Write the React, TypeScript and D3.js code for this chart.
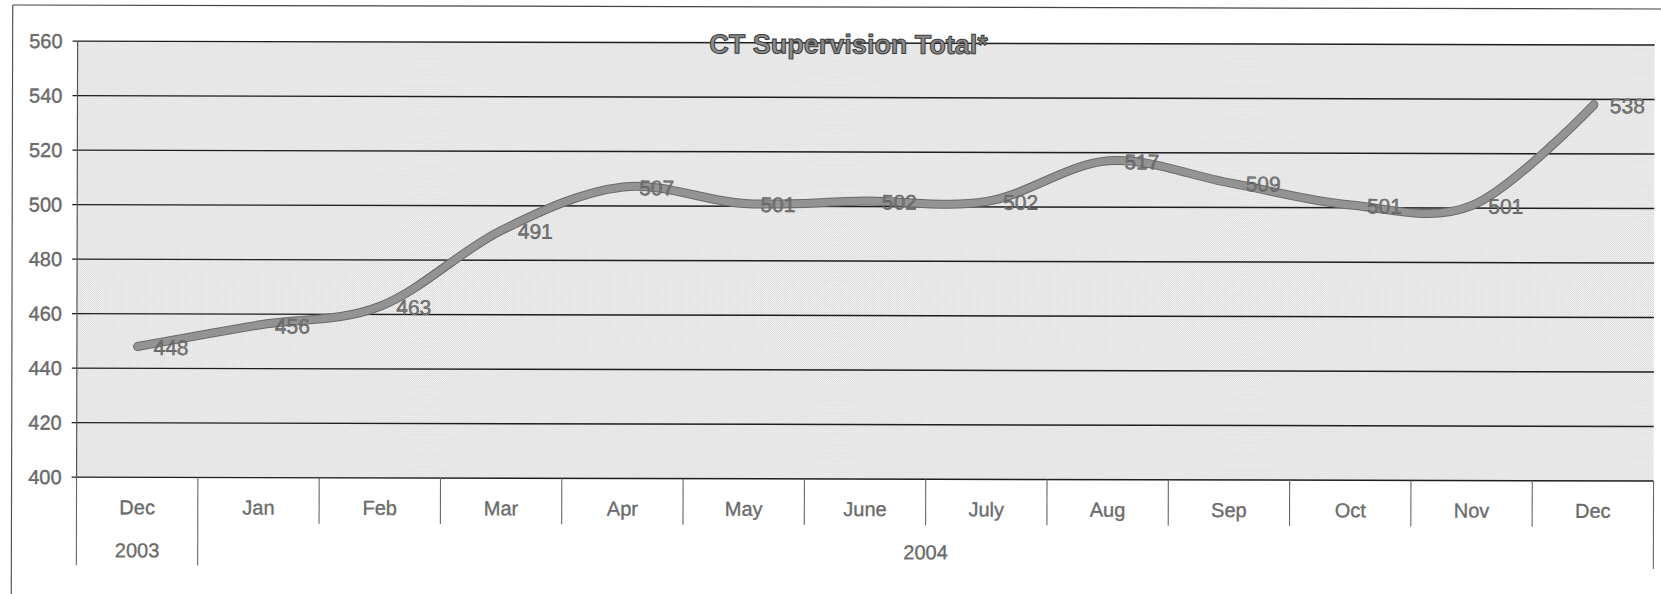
import React from "react";
import * as d3 from "d3";

const months = ["Dec", "Jan", "Feb", "Mar", "Apr", "May", "June", "July", "Aug", "Sep", "Oct", "Nov", "Dec"];
const values = [448, 456, 463, 491, 507, 501, 502, 502, 517, 509, 501, 501, 538];
const yearLabels = ["2003", "2004"];
const yearSpans = [1, 12];
const yTicks = [400, 420, 440, 460, 480, 500, 520, 540, 560];
const title = "CT Supervision Total*";

const W = 1661;
const H = 594;
const FONT = "'Liberation Sans', Arial, sans-serif";

export default function App() {
  const plotLeft = 77;
  const plotRight = 1654;
  const plotTop = 43;
  const plotBottom = 479;

  const x = d3.scaleBand<number>().domain(d3.range(months.length)).range([plotLeft, plotRight]).padding(0);
  const y = d3.scaleLinear().domain([400, 560]).range([plotBottom, plotTop]);
  const bw = x.bandwidth();
  const cx = (i: number) => (x(i) as number) + bw / 2;

  const line = d3
    .line<number>()
    .x((_, i) => cx(i))
    .y((d) => y(d))
    .curve(d3.curveCardinal.tension(0));
  const path = line(values) || "";

  const boundaries: { x: number; long: boolean }[] = [];
  let cum = 0;
  const yearEdges = new Set<number>([0]);
  yearSpans.forEach((s) => {
    cum += s;
    yearEdges.add(cum);
  });
  for (let i = 0; i <= months.length; i++) {
    const bx = i < months.length ? (x(i) as number) : plotRight;
    boundaries.push({ x: bx, long: yearEdges.has(i) });
  }

  const yearPos: { label: string; cx: number }[] = [];
  let start = 0;
  yearLabels.forEach((lab, k) => {
    const end = start + yearSpans[k];
    const x0 = x(start) as number;
    const x1 = end < months.length ? (x(end) as number) : plotRight;
    yearPos.push({ label: lab, cx: (x0 + x1) / 2 });
    start = end;
  });

  const textGrey = "#6f6f6f";

  return (
    <svg
      width={W}
      height={H}
      style={{ position: "absolute", left: 0, top: 0, background: "#ffffff" }}
      fontFamily={FONT}
    >
      <defs>
        <pattern id="stipple" width="2" height="2" patternUnits="userSpaceOnUse">
          <rect width="2" height="2" fill="#f3f3f3" />
          <rect x="0" y="0" width="1" height="1" fill="#d4d4d4" />
          <rect x="1" y="1" width="1" height="1" fill="#e2e2e2" />
        </pattern>
      </defs>
      <g transform="rotate(0.14 836 300)">
        <line x1={12} y1={7} x2={W + 5} y2={7} stroke="#444" strokeWidth={1.2} />
        <line x1={12} y1={7} x2={12} y2={H + 5} stroke="#555" strokeWidth={1.2} />

        <rect x={plotLeft} y={plotTop} width={plotRight - plotLeft} height={plotBottom - plotTop} fill="url(#stipple)" />

        {yTicks.map((t) => (
          <line key={"g" + t} x1={plotLeft - 5} x2={plotRight} y1={y(t)} y2={y(t)} stroke="#1e1e1e" strokeWidth={1.4} />
        ))}
        <line x1={plotLeft} x2={plotLeft} y1={plotTop} y2={plotBottom} stroke="#555" strokeWidth={1.2} />

        {yTicks.map((t) => (
          <text
            key={"t" + t}
            x={62}
            y={y(t)}
            dy="0.35em"
            textAnchor="end"
            fontSize={20}
            fill={textGrey}
            stroke="#555"
            strokeWidth={0.35}
          >
            {t}
          </text>
        ))}

        {boundaries.map((b, i) => (
          <line
            key={"b" + i}
            x1={b.x}
            x2={b.x}
            y1={plotBottom}
            y2={b.long ? plotBottom + 88 : plotBottom + 46}
            stroke="#666"
            strokeWidth={1.1}
          />
        ))}

        {months.map((m, i) => (
          <text
            key={"m" + i}
            x={cx(i)}
            y={plotBottom + 30}
            dy="0.35em"
            textAnchor="middle"
            fontSize={20}
            fill={textGrey}
            stroke="#555"
            strokeWidth={0.3}
          >
            {m}
          </text>
        ))}

        {yearPos.map((yp) => (
          <text
            key={yp.label}
            x={yp.cx}
            y={plotBottom + 73}
            dy="0.35em"
            textAnchor="middle"
            fontSize={20}
            fill={textGrey}
            stroke="#555"
            strokeWidth={0.3}
          >
            {yp.label}
          </text>
        ))}

        <path d={path} fill="none" stroke="#6a6a6a" strokeWidth={9} strokeLinecap="round" strokeLinejoin="round" />
        <path d={path} fill="none" stroke="#939393" strokeWidth={7} strokeLinecap="round" strokeLinejoin="round" />

        {values.map((v, i) => (
          <text
            key={"l" + i}
            x={cx(i) + 16}
            y={y(v) + 1}
            dy="0.35em"
            textAnchor="start"
            fontSize={21}
            fill="#7a7a7a"
            stroke="#4a4a4a"
            strokeWidth={0.4}
          >
            {v}
          </text>
        ))}

        <text
          x={848}
          y={44}
          dy="0.35em"
          textAnchor="middle"
          fontSize={27}
          fontWeight="bold"
          fill="#8c8c8c"
          stroke="#3a3a3a"
          strokeWidth={1}
        >
          {title}
        </text>
      </g>
    </svg>
  );
}
